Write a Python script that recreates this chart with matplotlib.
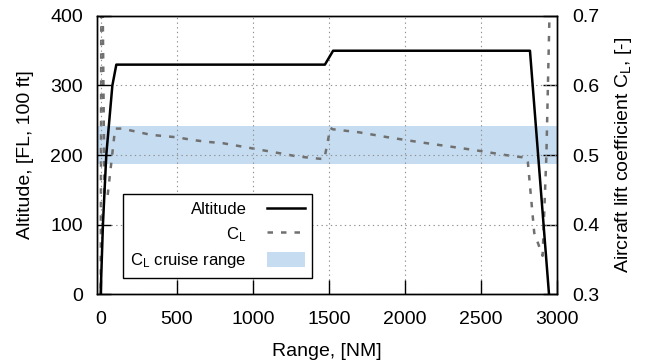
import matplotlib
matplotlib.use("Agg")
import matplotlib.pyplot as plt
from matplotlib.patches import Patch

plt.rcParams['font.family'] = ['Liberation Sans', 'DejaVu Sans']
plt.rcParams['font.size'] = 14

# altitude profile [NM, FL]
alt_nm = [0, 15, 37, 77, 103, 1474, 1528, 2822, 2947]
alt_fl = [0, 100, 200, 300, 330, 330, 350, 350, 0]

# lift coefficient along the flight
cl_nm = [0, 5, 12, 25, 45, 95, 138, 237, 329, 500, 605, 697, 803, 1191, 1276, 1375, 1470,
         1510, 1526, 1697, 1888, 2080, 2270, 2460, 2658, 2743, 2800, 2808, 2850, 2880, 2905,
         2930, 2960]
cl = [0.25, 0.80, 0.75, 0.44, 0.44, 0.538, 0.538, 0.5335, 0.529, 0.5255, 0.5216, 0.519,
      0.517, 0.502, 0.4986, 0.496, 0.494, 0.539, 0.537, 0.5327, 0.5255, 0.519, 0.513,
      0.507, 0.500, 0.4976, 0.496, 0.49, 0.388, 0.37, 0.355, 0.50, 0.80]

# C_L cruise band
cl_band = (0.487, 0.542)

fig = plt.figure(figsize=(6.5, 3.63), dpi=100)
ax = fig.add_axes([0.149, 0.19, 0.708, 0.766])
ax2 = ax.twinx()
ax.set_zorder(ax2.get_zorder() + 1)
ax.patch.set_visible(False)

ax2.axhspan(cl_band[0], cl_band[1], color='#c6dcf0', lw=0, zorder=0)
ax2.plot(cl_nm, cl, color='#707070', lw=1.8, dashes=(2.2, 3.2))

ax.plot(alt_nm, alt_fl, color='black', lw=1.8)

ax.set_xlim(-25, 3000)
ax.set_ylim(0, 400)
ax2.set_ylim(0.3, 0.7)
ax.set_xticks(range(0, 3001, 500))
ax.set_yticks(range(0, 401, 100))
ax2.set_yticks([0.3, 0.4, 0.5, 0.6, 0.7])
ax2.set_yticklabels(['0.3', '0.4', '0.5', '0.6', '0.7'])

ax.grid(True, color='#909090', ls=(0, (1.2, 3)), lw=0.8)
ax.tick_params(direction='in', length=10, width=1, top=False, right=False)
ax.tick_params(axis='x', pad=12)
ax.tick_params(axis='y', pad=10)
ax2.tick_params(direction='in', length=10, width=1, pad=11)
for a in (ax, ax2):
    for s in a.spines.values():
        s.set_linewidth(1.0)

ax.set_xlabel('Range, [NM]', labelpad=11)
ax.set_ylabel('Altitude, [FL, 100 ft]', labelpad=12)
ax2.set_ylabel(r'Aircraft lift coefficient $\mathregular{C_L}$, [-]', labelpad=10)

handles = [plt.Line2D([], [], color='black', lw=1.8),
           plt.Line2D([], [], color='#707070', lw=1.8, dashes=(2.2, 3.2)),
           Patch(facecolor='#c6dcf0', edgecolor='none')]
labels = ['Altitude', r'$\mathregular{C_L}$', r'$\mathregular{C_L}$ cruise range']
leg = ax.legend(handles, labels, loc='lower left', bbox_to_anchor=(0.056, 0.059),
                borderaxespad=0, markerfirst=False, fancybox=False, framealpha=1,
                edgecolor='black', fontsize=12, handlelength=2.3, handleheight=1.0,
                labelspacing=0.45, borderpad=0.45, handletextpad=1.2)
leg.get_frame().set_linewidth(1.0)

fig.savefig('out.png', dpi=100)
